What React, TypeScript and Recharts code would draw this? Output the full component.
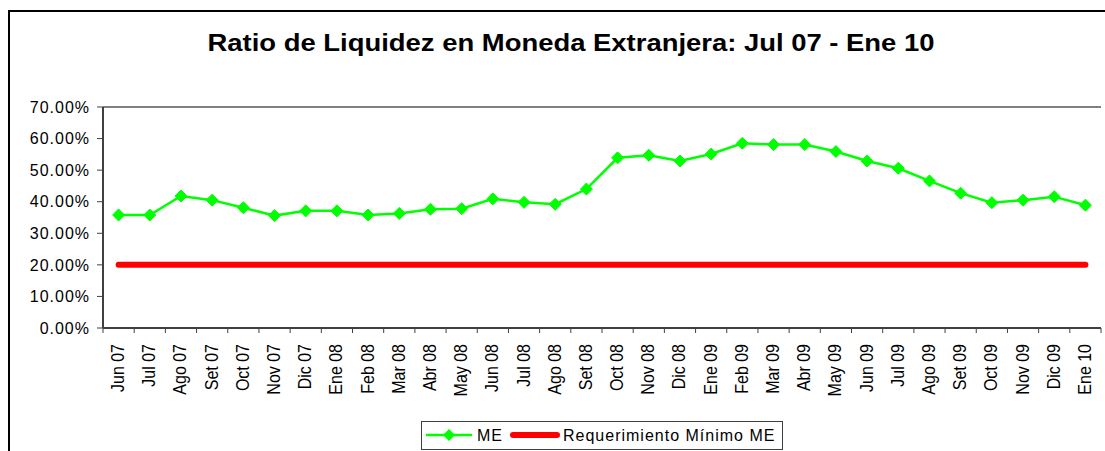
import React from 'react';
import { LineChart, Line, XAxis, YAxis, CartesianGrid, ReferenceLine } from 'recharts';

const categories = ['Jun 07','Jul 07','Ago 07','Set 07','Oct 07','Nov 07','Dic 07','Ene 08','Feb 08','Mar 08','Abr 08','May 08','Jun 08','Jul 08','Ago 08','Set 08','Oct 08','Nov 08','Dic 08','Ene 09','Feb 09','Mar 09','Abr 09','May 09','Jun 09','Jul 09','Ago 09','Set 09','Oct 09','Nov 09','Dic 09','Ene 10'];
const meValues = [35.8,35.8,41.8,40.5,38.1,35.6,37.1,37.1,35.8,36.3,37.6,37.8,40.9,39.8,39.2,44.0,53.9,54.7,52.9,55.1,58.5,58.1,58.1,55.9,52.9,50.6,46.6,42.7,39.7,40.5,41.6,38.9];
const minValues = [20,20,20,20,20,20,20,20,20,20,20,20,20,20,20,20,20,20,20,20,20,20,20,20,20,20,20,20,20,20,20,20];
const yTicks = [0,10,20,30,40,50,60,70];
const title = 'Ratio de Liquidez en Moneda Extranjera: Jul 07 - Ene 10';
const seriesNames = ['ME', 'Requerimiento Mínimo ME'];

const data = categories.map((c, i) => ({ idx: i, label: c, me: meValues[i], min: minValues[i] }));
const xTicks = categories.map((_, i) => i);

const W = 1105;
const H = 451;
const M = { top: 107, right: 4, left: 8, bottom: 53 };
const YW = 95;
const PLOT_W = W - M.left - M.right - YW;
const HALF = PLOT_W / categories.length / 2;
const FONT = '"Liberation Sans", Arial, Helvetica, sans-serif';

const Diamond = (props: any) => {
  const { cx, cy, index } = props;
  if (cx == null || cy == null) return <g key={index} />;
  const s = 6;
  return (
    <path
      key={index}
      d={`M${cx},${cy - s} L${cx + s},${cy} L${cx},${cy + s} L${cx - s},${cy} Z`}
      fill="#00ff00"
      stroke="#00ff00"
      strokeWidth={1}
    />
  );
};

const XTick = (props: any) => {
  const { x, y, payload, index } = props;
  const i = payload.value;
  const last = index === categories.length - 1;
  const lx = x + 5.5;
  const ly = y + 16;
  return (
    <g>
      <line x1={x - HALF} y1={y} x2={x - HALF} y2={y + 5} stroke="#404040" strokeWidth={1} />
      {last && <line x1={x + HALF} y1={y} x2={x + HALF} y2={y + 5} stroke="#404040" strokeWidth={1} />}
      <text
        x={0}
        y={0}
        transform={`translate(${lx},${ly}) rotate(-90) scale(1,1.1)`}
        textAnchor="end"
        fontSize={16}
        fontFamily={FONT}
        fill="#000"
      >
        {categories[i]}
      </text>
    </g>
  );
};

export default function App() {
  return (
    <div style={{ position: 'fixed', left: 0, top: 0, width: W, height: H, overflow: 'hidden', background: '#fff' }}>
      <div
        style={{
          position: 'absolute', left: 8, top: 10, width: 1200, height: 600,
          border: '2px solid #000', boxSizing: 'border-box',
        }}
      />
      <svg style={{ position: 'absolute', left: 0, top: 0 }} width={W} height={80}>
        <text
          x={571}
          y={51}
          textAnchor="middle"
          fontSize={24}
          fontWeight="bold"
          fontFamily={FONT}
          textLength={727}
          lengthAdjust="spacingAndGlyphs"
          fill="#000"
        >
          {title}
        </text>
      </svg>
      <div style={{ position: 'absolute', left: 0, top: 0 }}>
        <LineChart width={W} height={H} data={data} margin={M}>
          <CartesianGrid vertical={false} stroke="#404040" strokeDasharray="8 7" />
          <XAxis
            dataKey="idx"
            type="number"
            domain={[-0.5, categories.length - 0.5]}
            ticks={xTicks}
            interval={0}
            tickSize={0}
            tickMargin={0}
            tickLine={false}
            tick={<XTick />}
            height={70}
            axisLine={{ stroke: '#404040', strokeWidth: 2 }}
          />
          <YAxis
            yAxisId="l"
            domain={[0, 70]}
            ticks={yTicks}
            width={YW}
            tickSize={6}
            tickMargin={7}
            tickFormatter={(v: number) => v.toFixed(2) + '%'}
            tick={{ fill: '#000', fontSize: 16, fontFamily: FONT, letterSpacing: 1 }}
            tickLine={{ stroke: '#404040' }}
            axisLine={{ stroke: '#404040', strokeWidth: 2 }}
          />
          <YAxis
            yAxisId="r"
            orientation="right"
            domain={[0, 70]}
            width={0}
            tick={false}
            tickLine={false}
            axisLine={{ stroke: '#808080', strokeWidth: 2 }}
          />
          <ReferenceLine yAxisId="l" y={70} stroke="#808080" strokeWidth={2} />
          <Line
            yAxisId="l"
            dataKey="min"
            name={seriesNames[1]}
            stroke="#ff0000"
            strokeWidth={6}
            strokeLinecap="round"
            dot={false}
            activeDot={false}
            isAnimationActive={false}
          />
          <Line
            yAxisId="l"
            dataKey="me"
            name={seriesNames[0]}
            stroke="#00ff00"
            strokeWidth={2.5}
            dot={<Diamond />}
            activeDot={false}
            isAnimationActive={false}
          />
        </LineChart>
      </div>
      <div
        style={{
          position: 'absolute', left: 421, top: 421, width: 362, height: 29,
          border: '1px solid #404040', boxSizing: 'border-box', background: '#fff',
        }}
      />
      <svg style={{ position: 'absolute', left: 0, top: 0 }} width={W} height={H}>
        <line x1={426} y1={435} x2={472} y2={435} stroke="#00ff00" strokeWidth={2.5} />
        <path d="M449,429 L455,435 L449,441 L443,435 Z" fill="#00ff00" />
        <text x={477} y={441} fontSize={16} fontFamily={FONT} letterSpacing={1} fill="#000">{seriesNames[0]}</text>
        <line x1={513} y1={435} x2={557} y2={435} stroke="#ff0000" strokeWidth={6} strokeLinecap="round" />
        <text x={563} y={441} fontSize={16} fontFamily={FONT} letterSpacing={1} fill="#000">{seriesNames[1]}</text>
      </svg>
    </div>
  );
}
